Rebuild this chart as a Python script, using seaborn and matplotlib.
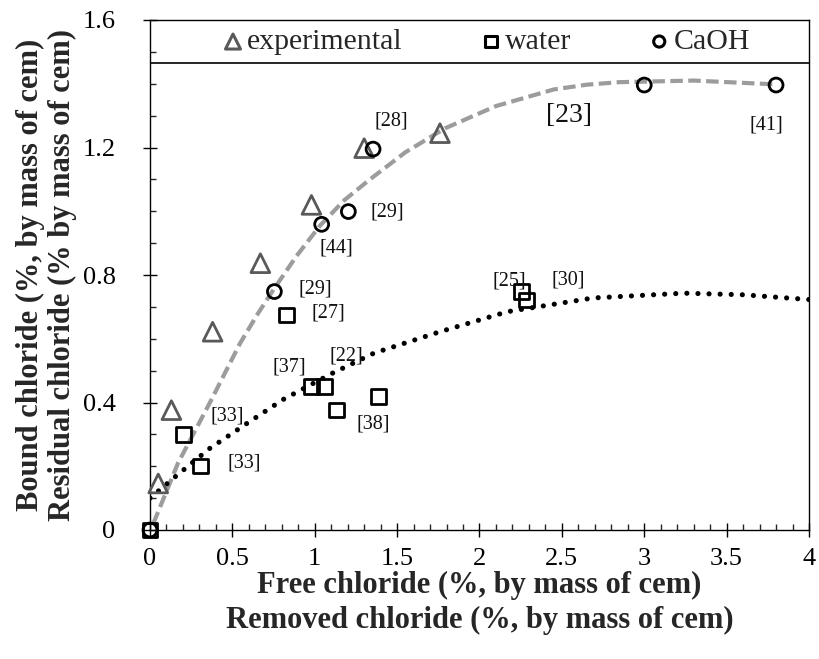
import numpy as np
import pandas as pd
import matplotlib
matplotlib.use("Agg")
import matplotlib.pyplot as plt
import seaborn as sns
from matplotlib.ticker import MultipleLocator

# ---------------- data ----------------
exp_x = [0.05, 0.13, 0.38, 0.67, 0.98, 1.30, 1.76]
exp_y = [0.146, 0.376, 0.622, 0.837, 1.02, 1.198, 1.245]

water_x = [0.0, 0.202, 0.308, 0.83, 0.98, 1.06, 1.133, 1.386, 2.256, 2.286]
water_y = [0.0, 0.300, 0.201, 0.675, 0.45, 0.45, 0.376, 0.418, 0.748, 0.722]

caoh_x = [0.0, 0.755, 1.042, 1.204, 1.354, 3.0, 3.80]
caoh_y = [0.0, 0.748, 0.959, 0.999, 1.195, 1.396, 1.396]

# trend curves
bound_curve_x = [0.02, 0.17, 0.364, 0.546, 0.65, 0.748, 0.89, 1.032, 1.18, 1.335, 1.55, 1.79,
                 2.1, 2.45, 2.65, 2.85, 3.3, 3.8]
bound_curve_y = [0.02, 0.21, 0.40, 0.585, 0.675, 0.753, 0.86, 0.955, 1.035, 1.10, 1.185, 1.26,
                 1.33, 1.382, 1.397, 1.405, 1.41, 1.398]

water_curve_x = [0.0, 0.16, 0.36, 0.59, 0.81, 1.10, 1.36, 1.76, 2.17, 2.69, 3.24, 3.6, 4.0]
water_curve_y = [0.10, 0.17, 0.255, 0.335, 0.41, 0.49, 0.555, 0.622, 0.685, 0.728, 0.743, 0.738, 0.723]

ref_labels = ["[28]", "[23]", "[41]", "[29]", "[44]", "[29]", "[27]", "[25]", "[30]",
              "[22]", "[37]", "[33]", "[33]", "[38]"]
ref_x = [1.463, 2.543, 3.739, 1.439, 1.129, 1.002, 1.080, 2.179, 2.537, 1.190, 0.844, 0.467, 0.571, 1.354]
ref_y = [1.283, 1.299, 1.271, 0.998, 0.885, 0.756, 0.681, 0.781, 0.784, 0.546, 0.511, 0.358, 0.210, 0.333]
ref_big = [False, True, False, False, False, False, False, False, False, False, False, False, False, False]

legend_line_y = 1.465

x_ticks = [0, 0.5, 1, 1.5, 2, 2.5, 3, 3.5, 4]
x_ticklabels = ["0", "0.5", "1", "1.5", "2", "2.5", "3", "3.5", "4"]
y_ticks = [0, 0.4, 0.8, 1.2, 1.6]
y_ticklabels = ["0", "0.4", "0.8", "1.2", "1.6"]

xlabel = "Free chloride (%, by mass of cem)\nRemoved chloride (%, by mass of cem)"
ylabel = "Bound chloride (%, by mass of cem)\nResidual chloride (% by mass of cem)"

# ---------------- style ----------------
sns.set_style("ticks")
plt.rcParams["font.family"] = ["Liberation Serif", "DejaVu Serif"]

fig = plt.figure(figsize=(8.2, 6.59), dpi=100)
ax = fig.add_axes([150 / 820, 1 - 530 / 659, (809 - 150) / 820, (530 - 20) / 659])

# curves
sns.lineplot(x=bound_curve_x, y=bound_curve_y, ax=ax, sort=False, estimator=None,
             color="#9c9c9c", linewidth=3.0, linestyle=(0, (3.0, 1.3)), zorder=2)
sns.lineplot(x=water_curve_x, y=water_curve_y, ax=ax, sort=False, estimator=None,
             color="black", linewidth=3.7, linestyle=(0, (0.01, 2.15)),
             dash_capstyle="round", zorder=2)

# markers
sns.scatterplot(x=exp_x, y=exp_y, ax=ax, marker="^", s=13.5 ** 2, facecolor="none",
                edgecolor="#595959", linewidth=2.0, label="experimental", zorder=3,
                clip_on=False)
sns.scatterplot(x=water_x, y=water_y, ax=ax, marker="s", s=10.5 ** 2, facecolor="none",
                edgecolor="black", linewidth=2.0, label="water", zorder=3, clip_on=False)
sns.scatterplot(x=caoh_x, y=caoh_y, ax=ax, marker="o", s=10.0 ** 2, facecolor="none",
                edgecolor="black", linewidth=2.0, label="CaOH", zorder=3, clip_on=False)

# reference labels
for lab, xx, yy, big in zip(ref_labels, ref_x, ref_y, ref_big):
    ax.text(xx, yy, lab, fontsize=20 if big else 14.5, ha="center", va="center",
            color="#111111", zorder=4)

# legend strip
ax.axhline(legend_line_y, color="black", linewidth=1.2, zorder=1)
leg = ax.legend(loc="center", bbox_to_anchor=(0.51, 0.957), ncol=3, frameon=False,
                fontsize=21.5, handletextpad=0.12, columnspacing=2.6, handlelength=0.7,
                markerscale=0.8, borderaxespad=0, borderpad=0)
for h in leg.legend_handles:
    h.set_linewidth(2.2)

# axes
ax.set_xlim(0, 4)
ax.set_ylim(0, 1.6)
ax.set_xticks(x_ticks)
ax.set_xticklabels(x_ticklabels)
ax.set_yticks(y_ticks)
ax.set_yticklabels(y_ticklabels)
ax.xaxis.set_minor_locator(MultipleLocator(0.1))
ax.yaxis.set_minor_locator(MultipleLocator(0.1))
ax.tick_params(which="major", direction="inout", length=9.5, width=1.0, labelsize=19,
               colors="black")
ax.tick_params(axis="x", which="major", pad=8)
ax.tick_params(axis="y", which="major", pad=20)
ax.tick_params(which="minor", direction="in", length=4.5, width=1.0)
for sp in ax.spines.values():
    sp.set_visible(True)
    sp.set_color("black")
    sp.set_linewidth(1.0)

ax.set_xlabel(xlabel, fontsize=22, fontweight="bold", labelpad=1, linespacing=1.28)
ax.set_ylabel(ylabel, fontsize=22, fontweight="bold", labelpad=4, linespacing=1.15)

fig.savefig("out.png", dpi=100)
